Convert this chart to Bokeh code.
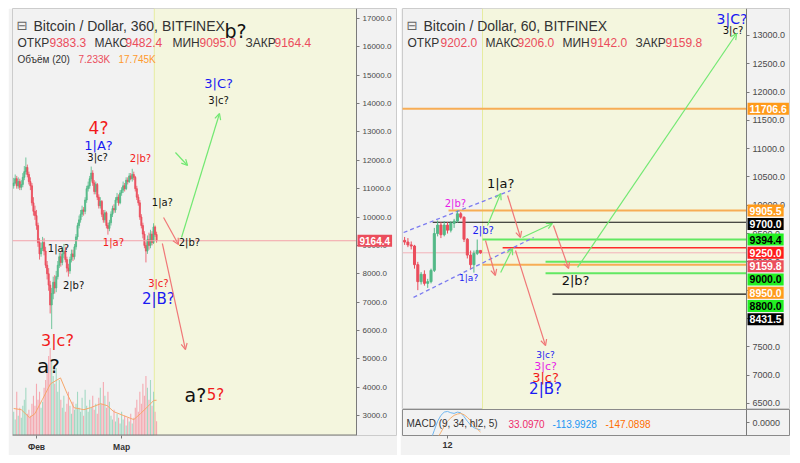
from bokeh.plotting import figure
from bokeh.models import (Range1d, FixedTicker, NumeralTickFormatter, BoxAnnotation,
                          Label, Arrow, OpenHead, ColumnDataSource, Spacer, LinearAxis)
from bokeh.layouts import row, column
from bokeh.core.properties import value
from bokeh.embed import file_html
from bokeh.resources import INLINE

# ============================ DATA ============================
# ---- left panel: Bitcoin / Dollar, 360, BITFINEX (x = days from 1 Feb, 12h steps)
l_start_day = -7.5
l_step_day = 0.5
l_first_open = 11100.0
l_close = [11200, 11350, 11100, 11250, 11050, 11150, 11400, 11600, 11750, 11500,
           11250, 11100, 10500, 10200, 10050, 9700, 9100, 8700, 8900, 9100,
           8800, 8300, 8000, 7600, 6900, 7300, 7700, 7500, 7900, 8300,
           8600, 8400, 8700, 8800, 8500, 8200, 8100, 8500, 8700, 8600,
           8950, 9300, 9700, 9900, 10100, 10250, 10200, 10600, 11000, 11100,
           11350, 11550, 11200, 10900, 11150, 10700, 10400, 10550, 10100, 9900,
           10150, 9700, 9600, 9800, 10100, 10300, 10250, 10600, 10700, 10500,
           10850, 10950, 11100, 11000, 11300, 11250, 11450, 11350, 11500, 11400,
           11000, 10700, 10500, 10000, 9700, 9400, 9000, 8800, 9200, 9000,
           9400, 9100, 9650, 9383.3, 9164.4]
l_high = [11380, 11500, 11450, 11400, 11350, 11300, 11550, 11800, 12100, 11850,
          11600, 11400, 11200, 10700, 10400, 10250, 9800, 9250, 9100, 9300,
          9250, 8950, 8450, 8200, 7750, 7500, 7900, 7950, 8100, 8450,
          8750, 8800, 8900, 9050, 8950, 8600, 8350, 8600, 8850, 8850,
          9050, 9400, 9800, 10050, 10250, 10400, 10350, 10700, 11100, 11250,
          11450, 11780, 11650, 11300, 11250, 11200, 10800, 10700, 10600, 10250,
          10250, 10200, 9800, 9900, 10200, 10400, 10450, 10700, 10850, 10800,
          10950, 11050, 11250, 11200, 11400, 11400, 11550, 11550, 11700, 11600,
          11450, 11100, 10800, 10600, 10100, 9800, 9500, 9100, 9350, 9450,
          9550, 9500, 9780, 9700, 9482.4]
l_low = [11000, 11150, 11000, 11000, 10950, 10950, 11050, 11300, 11500, 11400,
         11150, 10950, 10400, 10050, 9900, 9550, 8950, 8500, 8600, 8800,
         8650, 8200, 7800, 7400, 6600, 6050, 7100, 7300, 7350, 7800,
         8200, 8250, 8300, 8550, 8400, 8050, 7900, 8000, 8400, 8450,
         8500, 8850, 9200, 9600, 9800, 10000, 10050, 10100, 10500, 10900,
         11000, 11250, 11100, 10800, 10800, 10600, 10300, 10300, 10000, 9800,
         9800, 9600, 9380, 9500, 9700, 10000, 10150, 10150, 10500, 10400,
         10450, 10750, 10850, 10900, 10950, 11150, 11200, 11300, 11250, 11300,
         10900, 10600, 10400, 9900, 9600, 9250, 8900, 8400, 8700, 8850,
         8900, 9000, 9050, 9300, 9095]
l_volume_k = [12, 8, 22, 10, 14, 9, 15, 18, 24, 11,
              13, 10, 16, 20, 15, 26, 18, 22, 14, 17,
              24, 28, 32, 40, 44, 38, 30, 26, 34, 22,
              28, 18, 14, 20, 12, 16, 22, 15, 11, 17,
              13, 16, 22, 14, 12, 19, 10, 23, 15, 12,
              18, 14, 20, 13, 16, 11, 19, 24, 16, 27,
              20, 14, 22, 17, 10, 8, 13, 7, 11, 9,
              6, 12, 8, 10, 5, 9, 7, 11, 6, 9,
              14, 18, 12, 22, 16, 26, 20, 30, 24, 18,
              28, 15, 22, 12, 7.233]
l_vol_ma_day = [-7.5, -5, -2.3, -0.5, 1.9, 4.6, 7.9, 10.1, 12.3, 15.6,
                17.8, 21.1, 23.3, 25.4, 28.7, 32.0, 34.2, 36.9, 38.6, 39.5]
l_vol_ma_k = [13.6, 13, 9, 11, 18, 26, 29, 21, 14, 13,
              14, 16, 15, 12, 10, 8, 11, 15, 17.7, 17.745]
l_last = 9164.4
l_xticks = [0, 28]
l_xtick_labels = ["Фев", "Мар"]
l_yticks = [3000, 4000, 5000, 6000, 7000, 8000, 9000, 10000,
            11000, 12000, 13000, 14000, 15000, 16000, 17000]
l_future_start = 38.75

l_ann_text = ["4?", "1|A?", "3|c?", "2|b?", "1|a?", "1|a?", "2|b?", "1|a?", "2|b?",
              "3|c?", "2|B?", "3|c?", "a?", "a?", "5?", "3|C?", "3|c?", "b?"]
l_ann_day = [20.4, 20.4, 20.1, 34.2, 41.4, 7.2, 12.2, 25.3, 50.3,
             40.1, 40.1, 6.9, 3.9, 52.3, 58.9, 59.9, 59.9, 65.5]
l_ann_price = [13150, 12520, 12100, 12060, 10510, 8890, 7586, 9102, 9102,
               7656, 7127, 5646, 4765, 3742, 3742, 14708, 14108, 16577]

l_arrow_green = [(45.7, 12275, 49.7, 11817), (47.7, 9278, 60.2, 13650)]
l_arrow_red = [(41.8, 9983, 46.7, 9031), (41.4, 9067, 49.0, 5329)]

# ---- right panel: Bitcoin / Dollar, 60, BITFINEX (x = hours from 12 Mar 00:00)
r_first_hour = -13
r_open = [9380, 9350, 9300, 9280, 8950, 8650, 8780, 8620, 8650, 8850,
          9500, 9650, 9480, 9650, 9560, 9680, 9720, 9850, 9790, 9400,
          9120, 8950, 9150, 9202.0]
r_high = [9440, 9420, 9360, 9300, 9000, 8820, 8850, 8700, 8880, 9600,
          9730, 9700, 9720, 9700, 9720, 9760, 9905.5, 9880, 9800, 9420,
          9200, 9200, 9394.4, 9206.0]
r_low = [9300, 9260, 9220, 8880, 8500, 8600, 8580, 8540, 8620, 8820,
         9450, 9420, 9450, 9500, 9520, 9600, 9690, 9760, 9350, 9060,
         8880, 8810, 9120, 9142.0]
r_close = [9350, 9300, 9280, 8950, 8650, 8780, 8620, 8650, 8850, 9500,
           9650, 9480, 9650, 9560, 9680, 9720, 9850, 9790, 9400, 9120,
           8950, 9150, 9202, 9159.8]
r_macd = [-420, -400, -380, -420, -480, -460, -440, -380, -260, -120,
          20, 110, 160, 170, 150, 140, 160, 150, 90, 20,
          -40, -80, -100, -113.9928]
r_signal = [-300, -320, -340, -350, -370, -390, -400, -400, -380, -320,
            -240, -150, -60, 20, 70, 110, 130, 140, 120, 80,
            30, -40, -100, -147.0898]
r_last = 9159.8
r_future_start = 10.6
r_yticks = [6500, 7000, 7500, 8000, 8500, 9000, 9500, 10000, 10500,
            11000, 11500, 12000, 12500, 13000]
r_xticks = [0]
r_xtick_labels = ["12"]

r_level_value = [11706.6, 9905.5, 9700.0, 9394.4, 9250.0, 9000.0, 8950.0, 8800.0, 8431.5]
r_level_start = [-14.0, 0.3, -4.5, 10.6, 16.7, 29.7, 10.6, 29.7, 31.8]
r_level_kind = ["orange", "orange", "black", "green", "red", "green", "orange", "green", "black"]

r_channel = [(-13.3, 9519, 19.1, 10261), (-10.3, 8371, 26.1, 9431)]
r_arrow_green = [(12.1, 9643, 16.1, 10208), (22.7, 9431, 31.8, 9678),
                 (39.4, 8901, 87.6, 13035), (16.1, 8812, 19.7, 9236)]
r_arrow_red = [(18.2, 10173, 22.1, 9431), (32.1, 9643, 36.7, 8883),
               (11.5, 9378, 14.5, 8759), (20.6, 9201, 29.7, 7520)]

r_ann_text = ["2|b?", "1|a?", "2|b?", "1|a?", "2|b?", "3|C?", "3|c?",
              "3|c?", "3|c?", "3|c?", "2|B?"]
r_ann_hour = [2.4, 6.4, 10.8, 16.1, 38.8, 86.2, 86.5, 29.7, 29.7, 29.7, 29.7]
r_ann_price = [10031, 8706, 9554, 10385, 8671, 13300, 13088, 7346, 7152, 6958, 6745]

# ============================ STYLE ============================
PANEL = "#f2f2f2"
YEL = "#f4f6de"
UP = "#53b987"
DN = "#eb4d5c"
VUP = "#a3d9c3"
VDN = "#f4a9b1"
RED = "#f21a1a"
BLUE = "#1a1af2"
MAG = "#e61ee6"
BLK = "#111111"
AFONT = "DejaVu Sans"
FONT = "Liberation Sans"
AXC = "#7a7a7a"

l_ann_color = [RED, BLUE, BLK, RED, BLK, BLK, BLK, RED, BLK,
               RED, BLUE, RED, BLK, BLK, RED, BLUE, BLK, BLK]
l_ann_size = ["17px", "13px", "10px", "10px", "10px", "10px", "10px", "10px", "10px",
              "10px", "15px", "16px", "20px", "19px", "15px", "13px", "10px", "19px"]
r_ann_color = [MAG, BLUE, BLUE, BLK, BLK, BLUE, BLK, BLUE, MAG, RED, BLUE]
r_ann_size = ["10px", "9px", "10px", "13px", "13px", "14px", "10px", "9px", "11px", "13px", "15px"]

LEVEL_LINE = {"orange": ("#f7ad55", 2), "black": ("#111111", 1.2),
              "green": ("#62e862", 2), "red": ("#ff2a2a", 1.6)}
LEVEL_BOX = {"orange": ("#ff9a1a", "white"), "black": ("#000000", "white"),
             "green": ("#22f022", "black"), "red": ("#ff1a1a", "white"),
             "last": ("#eb4d5c", "white")}

# view windows; the price scale sits inside the panel at the *_AXIS_X position
L_X0, L_AXIS_X, L_X1 = -7.89, 105.26, 118.75
R_X0, R_AXIS_X, R_X1 = -13.64, 90.6, 103.92


def style_axis(ax, size, color="#4a4a4a"):
    ax.axis_line_color = AXC
    ax.major_tick_line_color = AXC
    ax.major_tick_out = 3
    ax.major_tick_in = 0
    ax.minor_tick_line_color = None
    ax.major_label_text_font = FONT
    ax.major_label_text_font_size = size
    ax.major_label_text_color = color
    ax.major_label_standoff = 3


def price_axis(p, loc, ticks, fmt, size):
    ax = LinearAxis(fixed_location=loc, ticker=FixedTicker(ticks=ticks),
                    formatter=NumeralTickFormatter(format=fmt))
    style_axis(ax, size)
    p.add_layout(ax, "right")
    return ax


def hdr(p, x, y, text, color, size, font=FONT, bold=False):
    p.add_layout(Label(x=x, y=y, x_units="screen", y_units="screen", text=text,
                       text_color=color, text_font_size=size, text_font=font,
                       text_baseline="middle", text_font_style="bold" if bold else "normal"))


def price_box(p, x, y, text, bg, tc, size):
    p.add_layout(Label(x=x, y=y, x_offset=1, text=text, text_color=tc,
                       background_fill_color=bg, background_fill_alpha=1.0,
                       text_font=FONT, text_font_size=size, text_font_style="bold",
                       text_baseline="middle", padding=2))


def arrows(p, lst, color):
    for (x0, y0, x1, y1) in lst:
        p.add_layout(Arrow(x_start=x0, y_start=y0, x_end=x1, y_end=y1,
                           line_color=color, line_width=1.2,
                           end=OpenHead(size=6, line_color=color, line_width=1.2)))


# ============================ LEFT PANEL ============================
l_days = [l_start_day + l_step_day * i for i in range(len(l_close))]
l_open = [l_first_open] + l_close[:-1]
l_col = [UP if c >= o else DN for o, c in zip(l_open, l_close)]
l_vcol = [VUP if c >= o else VDN for o, c in zip(l_open, l_close)]
src_l = ColumnDataSource(dict(day=l_days, open=l_open, close=l_close, high=l_high,
                              low=l_low, vol=l_volume_k, col=l_col, vcol=l_vcol))

l_yr = Range1d(2297, 17353)
pL = figure(width=389, height=447, x_range=Range1d(L_X0, L_X1), y_range=l_yr,
            output_backend="svg", toolbar_location=None, y_axis_location=None,
            min_border_left=4, min_border_right=0, min_border_top=0, min_border_bottom=20,
            background_fill_color=PANEL, border_fill_color=PANEL, outline_line_color="#cccccc")
pL.grid.visible = False
pL.extra_y_ranges = {"vol": Range1d(0, 215)}

pL.add_layout(BoxAnnotation(left=l_future_start, right=L_AXIS_X, fill_color=YEL,
                            fill_alpha=1, line_alpha=0, level="underlay"))
pL.segment(x0=[l_future_start], y0=[l_yr.start], x1=[l_future_start], y1=[l_yr.end],
           line_color="#e6eca0", line_width=1)

pL.vbar(x="day", top="vol", bottom=0, width=0.36, y_range_name="vol",
        fill_color="vcol", line_color=None, source=src_l)
pL.line(l_vol_ma_day, l_vol_ma_k, y_range_name="vol", line_color="#f6a66a", line_width=1)

pL.segment(x0="day", y0="low", x1="day", y1="high", line_color="col", line_width=1,
           line_alpha=0.8, source=src_l)
pL.vbar(x="day", top="open", bottom="close", width=0.36, fill_color="col",
        line_color="col", line_alpha=0.8, fill_alpha=0.8, source=src_l)

pL.segment(x0=[L_X0], y0=[l_last], x1=[L_AXIS_X], y1=[l_last], line_color="#f3a3ab",
           line_width=1)

arrows(pL, l_arrow_green, "#72e872")
arrows(pL, l_arrow_red, "#f07777")

pL.text(x=l_ann_day, y=l_ann_price, text=l_ann_text, text_color=l_ann_color,
        text_font_size=l_ann_size, text_font=value(AFONT), text_align="center",
        text_baseline="middle")

# bottom edge of the price area, up to the price scale
pL.segment(x0=[L_X0], y0=[l_yr.start], x1=[L_AXIS_X], y1=[l_yr.start],
           line_color=AXC, line_width=2)

price_axis(pL, L_AXIS_X, l_yticks, "0.0", "8px")
style_axis(pL.xaxis[0], "8.5px", "#333333")
pL.xaxis.axis_line_color = None
pL.xaxis.ticker = FixedTicker(ticks=l_xticks)
pL.xaxis.major_label_overrides = dict(zip(l_xticks, l_xtick_labels))
pL.xaxis.major_label_text_font_style = "bold"

price_box(pL, L_AXIS_X, l_last, f"{l_last:.1f}", LEVEL_BOX["last"][0], "white", "10px")

hdr(pL, 4, 410, "⊟", "#666666", "13px", font=AFONT)
hdr(pL, 21, 410, "Bitcoin / Dollar, 360, BITFINEX", "#333333", "14px")
for x, t, c in [(5, "ОТКР", "#333333"), (37, "9383.3", DN), (82, "МАКС", "#333333"),
                (113, "9482.4", DN), (160, "МИН", "#333333"), (187, "9095.0", DN),
                (233, "ЗАКР", "#333333"), (262, "9164.4", DN)]:
    hdr(pL, x, 393, t, c, "12px")
for x, t, c in [(5, "Объём (20)", "#333333"), (66, "7.233K", DN), (106, "17.745K", "#ff9a2e")]:
    hdr(pL, x, 376, t, c, "10px")

# ============================ RIGHT PANEL ============================
r_hours = [r_first_hour + i for i in range(len(r_close))]
r_col = [UP if c >= o else DN for o, c in zip(r_open, r_close)]
src_r = ColumnDataSource(dict(h=r_hours, open=r_open, close=r_close, high=r_high,
                              low=r_low, col=r_col, macd=r_macd, sig=r_signal))

xr = Range1d(R_X0, R_X1)
r_yr = Range1d(6391, 13477)
pR = figure(width=390, height=401, x_range=xr, y_range=r_yr,
            output_backend="svg", toolbar_location=None, x_axis_location=None,
            y_axis_location=None, min_border_left=2, min_border_right=0,
            min_border_top=0, min_border_bottom=0, background_fill_color=PANEL,
            border_fill_color=PANEL, outline_line_color="#cccccc")
pR.grid.visible = False
pR.add_layout(BoxAnnotation(left=r_future_start, right=R_AXIS_X, fill_color=YEL,
                            fill_alpha=1, line_alpha=0, level="underlay"))
pR.segment(x0=[r_future_start], y0=[r_yr.start], x1=[r_future_start], y1=[r_yr.end],
           line_color="#e6eca0", line_width=1)

pR.segment(x0=[R_X0], y0=[r_last], x1=[R_AXIS_X], y1=[r_last], line_color="#f3b3b9",
           line_width=1)
pR.segment(x0=r_level_start, y0=r_level_value, x1=[R_AXIS_X] * len(r_level_value),
           y1=r_level_value, line_color=[LEVEL_LINE[k][0] for k in r_level_kind],
           line_width=[LEVEL_LINE[k][1] for k in r_level_kind])

for (x0, y0, x1, y1) in r_channel:
    pR.segment(x0=[x0], y0=[y0], x1=[x1], y1=[y1], line_color="#7b7bf0",
               line_width=1.3, line_dash="4 3")

pR.segment(x0="h", y0="low", x1="h", y1="high", line_color="col", line_width=1, source=src_r)
pR.vbar(x="h", top="open", bottom="close", width=0.62, fill_color="col",
        line_color="col", source=src_r)

arrows(pR, r_arrow_green, "#72e872")
arrows(pR, r_arrow_red, "#f07777")

pR.text(x=r_ann_hour, y=r_ann_price, text=r_ann_text, text_color=r_ann_color,
        text_font_size=r_ann_size, text_font=value(AFONT), text_align="center",
        text_baseline="middle")

price_axis(pR, R_AXIS_X, r_yticks, "0.0", "9px")

# stacked price boxes on the right scale
box_vals = [v for v in r_level_value[1:]] + [r_last]
box_kind = [k for k in r_level_kind[1:]] + ["last"]
order = sorted(range(len(box_vals)), key=lambda i: -box_vals[i])
step = 235.0
prev = None
placed = []
for i in order:
    y = box_vals[i] if prev is None else min(box_vals[i], prev - step)
    prev = y
    placed.append((y, box_vals[i], box_kind[i]))
placed.append((r_level_value[0], r_level_value[0], r_level_kind[0]))
for y, v, k in placed:
    bg, tc = LEVEL_BOX[k]
    price_box(pR, R_AXIS_X, y, f"{v:.1f}", bg, tc, "10.5px")

hdr(pR, 4, 384, "⊟", "#666666", "13px", font=AFONT)
hdr(pR, 21, 384, "Bitcoin / Dollar, 60, BITFINEX", "#333333", "14px")
for x, t, c in [(5, "ОТКР", "#333333"), (38, "9202.0", DN), (83, "МАКС", "#333333"),
                (115, "9206.0", DN), (160, "МИН", "#333333"), (188, "9142.0", DN),
                (233, "ЗАКР", "#333333"), (263, "9159.8", DN)]:
    hdr(pR, x, 367, t, c, "12px")

# ---- MACD pane
m_yr = Range1d(-200, 200)
pM = figure(width=390, height=46, x_range=xr, y_range=m_yr,
            output_backend="svg", toolbar_location=None, y_axis_location=None,
            min_border_left=2, min_border_right=0, min_border_top=0, min_border_bottom=20,
            background_fill_color=PANEL, border_fill_color=PANEL, outline_line_color="#8a8a8a")
pM.grid.visible = False
pM.line(x="h", y="macd", line_color="#6fb6f0", line_width=1, source=src_r)
pM.line(x="h", y="sig", line_color="#f5b070", line_width=1, source=src_r)
price_axis(pM, R_AXIS_X, [0], "0.0000", "9px")
style_axis(pM.xaxis[0], "9px", "#333333")
pM.xaxis.axis_line_color = None
pM.xaxis.ticker = FixedTicker(ticks=r_xticks)
pM.xaxis.major_label_overrides = dict(zip(r_xticks, r_xtick_labels))
pM.xaxis.major_label_text_font_style = "bold"
hdr(pM, 4, 12, "MACD (9, 34, hl2, 5)", "#333333", "10px")
hdr(pM, 106, 12, "33.0970", "#ee2a6a", "10px")
hdr(pM, 150, 12, "-113.9928", "#2196f3", "10px")
hdr(pM, 203, 12, "-147.0898", "#ff6d00", "10px")

layout = column(Spacer(height=8),
                row(Spacer(width=8), pL, Spacer(width=3), column(pR, pM)))
open("out.html", "w").write(file_html(layout, INLINE))
